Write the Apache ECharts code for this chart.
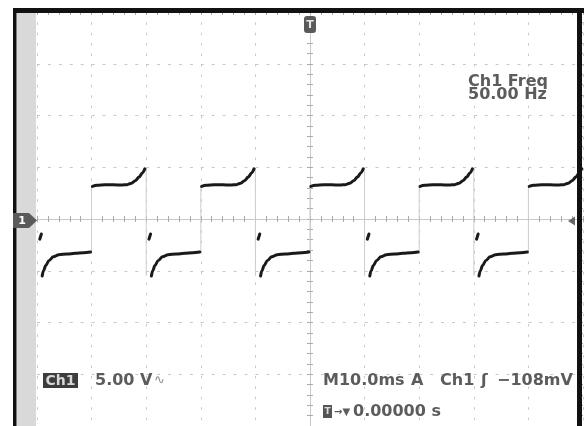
<!DOCTYPE html>
<html>
<head>
<meta charset="utf-8">
<script src="https://cdn.jsdelivr.net/npm/echarts@6/dist/echarts.min.js"></script>
<style>
html,body{margin:0;padding:0;background:#fff;}
#c{width:584px;height:426px;}
</style>
</head>
<body>
<div id="c"></div>
<script>
// Time axis in ms (10 ms/div), voltage axis in V (5 V/div)
const timeTicks = [-50, -40, -30, -20, -10, 0, 10, 20, 30, 40, 50];
const voltTicks = [-20, -15, -10, -5, 0, 5, 10, 15, 20];

// High half-cycles (after each rising edge)
const highSeg1 = [[-39.85,3.15],[-39,3.25],[-37.5,3.3],[-36,3.3],[-34.5,3.28],[-33.5,3.32],[-32.7,3.45],[-32,3.7],[-31.3,4.05],[-30.7,4.45],[-30.25,4.85]];
const highSeg2 = [[-19.85,3.15],[-19,3.25],[-17.5,3.3],[-16,3.3],[-14.5,3.28],[-13.5,3.32],[-12.7,3.45],[-12,3.7],[-11.3,4.05],[-10.7,4.45],[-10.25,4.85]];
const highSeg3 = [[0.15,3.15],[1,3.25],[2.5,3.3],[4,3.3],[5.5,3.28],[6.5,3.32],[7.3,3.45],[8,3.7],[8.7,4.05],[9.3,4.45],[9.75,4.85]];
const highSeg4 = [[20.15,3.15],[21,3.25],[22.5,3.3],[24,3.3],[25.5,3.28],[26.5,3.32],[27.3,3.45],[28,3.7],[28.7,4.05],[29.3,4.45],[29.75,4.85]];
const highSeg5 = [[40.15,3.15],[41,3.25],[42.5,3.3],[44,3.3],[45.5,3.28],[46.5,3.32],[47.3,3.45],[48,3.7],[48.7,4.05],[49.3,4.45],[49.75,4.85]];

// Short blips just after each falling edge
const blip1 = [[-49.5,-1.95],[-49.2,-1.45]];
const blip2 = [[-29.5,-1.95],[-29.2,-1.45]];
const blip3 = [[-9.5,-1.95],[-9.2,-1.45]];
const blip4 = [[10.5,-1.95],[10.8,-1.45]];
const blip5 = [[30.5,-1.95],[30.8,-1.45]];

// Low half-cycles (after each falling edge)
const lowSeg1 = [[-49.05,-5.5],[-48.8,-5.0],[-48.4,-4.5],[-47.8,-4.0],[-47,-3.65],[-46,-3.45],[-44.5,-3.38],[-43,-3.32],[-41.5,-3.25],[-40.2,-3.18]];
const lowSeg2 = [[-29.05,-5.5],[-28.8,-5.0],[-28.4,-4.5],[-27.8,-4.0],[-27,-3.65],[-26,-3.45],[-24.5,-3.38],[-23,-3.32],[-21.5,-3.25],[-20.2,-3.18]];
const lowSeg3 = [[-9.05,-5.5],[-8.8,-5.0],[-8.4,-4.5],[-7.8,-4.0],[-7,-3.65],[-6,-3.45],[-4.5,-3.38],[-3,-3.32],[-1.5,-3.25],[-0.2,-3.18]];
const lowSeg4 = [[10.95,-5.5],[11.2,-5.0],[11.6,-4.5],[12.2,-4.0],[13,-3.65],[14,-3.45],[15.5,-3.38],[17,-3.32],[18.5,-3.25],[19.8,-3.18]];
const lowSeg5 = [[30.95,-5.5],[31.2,-5.0],[31.6,-4.5],[32.2,-4.0],[33,-3.65],[34,-3.45],[35.5,-3.38],[37,-3.32],[38.5,-3.25],[39.8,-3.18]];

// Faint fast edges
const risingEdges = [-40, -20, 0, 20, 40];
const fallingEdges = [-30, -10, 10, 30];
const edgeLow = -3.2, edgeHigh = 3.15, edgeTop = 4.85, edgeBottom = -5.5;

const traceSegments = [lowSeg1, blip1, highSeg1, blip2, lowSeg2, highSeg2, blip3, lowSeg3, highSeg3, blip4, lowSeg4, highSeg4, blip5, lowSeg5, highSeg5];

function joinSegments(segs) {
  const out = [];
  segs.forEach((s, i) => {
    if (i > 0) out.push([s[0][0], null]);
    s.forEach(p => out.push(p));
  });
  return out;
}
const traceData = joinSegments(traceSegments.slice().sort((a, b) => a[0][0] - b[0][0]));
const edgeSeries = [];
risingEdges.forEach(t => edgeSeries.push([[t, edgeLow], [t, edgeHigh]]));
fallingEdges.forEach(t => edgeSeries.push([[t, edgeTop], [t, edgeBottom]]));

const TXT = '#5c5c5c';

const chart = echarts.init(document.getElementById('c'), null, {renderer: 'canvas'});

const tickStyle = {color: '#ababab', width: 1};
function centerX(pos) {
  return {
    type: 'value', min: timeTicks[0], max: timeTicks[timeTicks.length-1], interval: 10, position: pos,
    axisLine: {show: true, onZero: true, lineStyle: {color: '#c9c9c9', width: 1}},
    axisTick: {show: true, length: 3, lineStyle: tickStyle},
    minorTick: {show: true, splitNumber: 5, length: 3, lineStyle: tickStyle},
    axisLabel: {show: false}, splitLine: {show: false}
  };
}
function centerY(pos) {
  return {
    type: 'value', min: voltTicks[0], max: voltTicks[voltTicks.length-1], interval: 5, position: pos,
    axisLine: {show: true, onZero: true, lineStyle: {color: '#c9c9c9', width: 1}},
    axisTick: {show: true, length: 3, lineStyle: tickStyle},
    minorTick: {show: true, splitNumber: 5, length: 3, lineStyle: tickStyle},
    axisLabel: {show: false}, splitLine: {show: false}
  };
}

const xMain = centerX('bottom');
xMain.splitLine = {show: true, lineStyle: {color: '#c8c8c8', width: 1, type: [2.5, 7.9]}};
const yMain = centerY('left');
yMain.splitLine = {show: true, lineStyle: {color: '#c8c8c8', width: 1, type: [3, 7.92]}};

const xFrame = {
  type: 'value', min: -50, max: 50, interval: 10, position: 'top',
  axisLine: {show: false, onZero: false},
  axisTick: {show: true, inside: true, length: 3, lineStyle: tickStyle},
  minorTick: {show: true, splitNumber: 5, length: 3, lineStyle: tickStyle},
  axisLabel: {show: false}, splitLine: {show: false}
};
const yFrame = {
  type: 'value', min: -20, max: 20, interval: 5, position: 'right',
  axisLine: {show: false, onZero: false},
  axisTick: {show: true, inside: true, length: 3, lineStyle: tickStyle},
  minorTick: {show: true, splitNumber: 5, length: 3, lineStyle: tickStyle},
  axisLabel: {show: false}, splitLine: {show: false}
};

const series = [];
edgeSeries.forEach(d => series.push({
  type: 'line', data: d, xAxisIndex: 0, yAxisIndex: 0, showSymbol: false, silent: true,
  lineStyle: {color: '#cdcdcd', width: 1}, z: 3, animation: false
}));
series.push({
  type: 'line', data: traceData, xAxisIndex: 0, yAxisIndex: 0, showSymbol: false,
  connectNulls: false, smooth: 0.35, smoothMonotone: 'x',
  lineStyle: {color: '#1a1a1a', width: 3, cap: 'round', join: 'round'}, z: 5, animation: false
});

const graphic = [
  // outer dark frame
  {type: 'rect', shape: {x: 13, y: 8, width: 571, height: 5}, style: {fill: '#111'}, z: 100},
  {type: 'rect', shape: {x: 13, y: 8, width: 3.5, height: 418}, style: {fill: '#111'}, z: 100},
  {type: 'rect', shape: {x: 577, y: 8, width: 5, height: 418}, style: {fill: '#111'}, z: 100},
  // grey strip on the left
  {type: 'rect', shape: {x: 16.5, y: 13, width: 19.5, height: 413}, style: {fill: '#d9d9d9'}, z: 90},
  // channel 1 ground marker
  {type: 'polygon', shape: {points: [[13,213],[29,213],[37,220.5],[29,228],[13,228]]}, style: {fill: '#5a5a5a'}, z: 101},
  {type: 'text', x: 22, y: 221, style: {text: '1', fill: '#fff', font: 'bold 11px "DejaVu Sans"', align: 'center', verticalAlign: 'middle'}, z: 102},
  // trigger position marker
  {type: 'rect', shape: {x: 304, y: 16, width: 12, height: 17, r: 3}, style: {fill: '#5a5a5a'}, z: 101},
  {type: 'text', x: 310, y: 25, style: {text: 'T', fill: '#e6e6e6', font: 'bold 11px "DejaVu Sans"', align: 'center', verticalAlign: 'middle'}, z: 102},
  // trigger level marker
  {type: 'polygon', shape: {points: [[568,221],[575,216.5],[575,225.5]]}, style: {fill: '#666'}, z: 101},
  // measurement readout
  {type: 'text', x: 468, y: 82, style: {text: 'Ch1 Freq', fill: TXT, font: 'bold 16px "DejaVu Sans"', align: 'left', verticalAlign: 'middle'}, z: 60},
  {type: 'text', x: 468, y: 95, style: {text: '50.00 Hz', fill: TXT, font: 'bold 16px "DejaVu Sans"', align: 'left', verticalAlign: 'middle'}, z: 60},
  // bottom status line
  {type: 'rect', shape: {x: 43, y: 373, width: 35, height: 15}, style: {fill: '#3c3c3c'}, z: 60},
  {type: 'text', x: 60.5, y: 381, style: {text: 'Ch1', fill: '#d8d8d8', font: 'bold 14px "DejaVu Sans"', align: 'center', verticalAlign: 'middle'}, z: 61},
  {type: 'text', x: 95, y: 381, style: {text: '5.00 V', fill: TXT, font: 'bold 16px "DejaVu Sans"', align: 'left', verticalAlign: 'middle'}, z: 60},
  {type: 'text', x: 154, y: 381, style: {text: '∿', fill: '#8a8a8a', font: '13px "DejaVu Sans"', align: 'left', verticalAlign: 'middle'}, z: 60},
  {type: 'text', x: 323, y: 381, style: {text: 'M10.0ms', fill: TXT, font: 'bold 16px "DejaVu Sans"', align: 'left', verticalAlign: 'middle'}, z: 60},
  {type: 'text', x: 411, y: 381, style: {text: 'A', fill: TXT, font: 'bold 16px "DejaVu Sans"', align: 'left', verticalAlign: 'middle'}, z: 60},
  {type: 'text', x: 440, y: 381, style: {text: 'Ch1', fill: TXT, font: 'bold 16px "DejaVu Sans"', align: 'left', verticalAlign: 'middle'}, z: 60},
  {type: 'text', x: 481, y: 381, style: {text: 'ʃ', fill: TXT, font: 'bold 16px "DejaVu Sans"', align: 'left', verticalAlign: 'middle'}, z: 60},
  {type: 'text', x: 497, y: 381, style: {text: '−108mV', fill: TXT, font: 'bold 16px "DejaVu Sans"', align: 'left', verticalAlign: 'middle'}, z: 60},
  {type: 'rect', shape: {x: 323, y: 405, width: 9, height: 13}, style: {fill: '#555'}, z: 60},
  {type: 'text', x: 327.5, y: 412, style: {text: 'T', fill: '#ddd', font: 'bold 9px "DejaVu Sans"', align: 'center', verticalAlign: 'middle'}, z: 61},
  {type: 'text', x: 334, y: 412, style: {text: '→▼', fill: TXT, font: 'bold 10px "DejaVu Sans"', align: 'left', verticalAlign: 'middle'}, z: 60},
  {type: 'text', x: 353, y: 412, style: {text: '0.00000 s', fill: TXT, font: 'bold 16px "DejaVu Sans"', align: 'left', verticalAlign: 'middle'}, z: 60}
];

chart.setOption({
  animation: false,
  backgroundColor: '#ffffff',
  grid: {left: 37, top: 12, width: 546, height: 416, containLabel: false},
  xAxis: [xMain, centerX('top'), xFrame],
  yAxis: [yMain, centerY('right'), yFrame],
  series: series,
  graphic: graphic
});
</script>
</body>
</html>
